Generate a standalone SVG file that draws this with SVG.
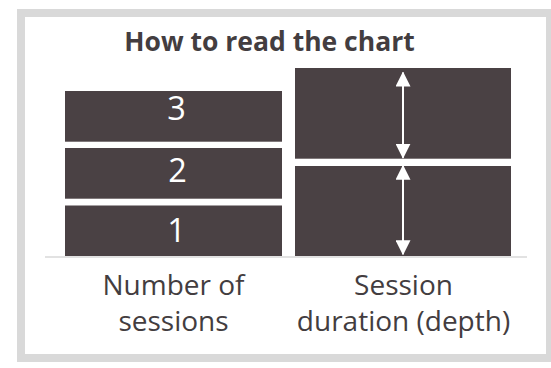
<svg xmlns="http://www.w3.org/2000/svg" width="551" height="368" viewBox="0 0 551 368">
  <defs>
    <marker id="head" viewBox="0 0 15 15" refX="14" refY="7.5" markerWidth="15" markerHeight="15" markerUnits="userSpaceOnUse" orient="auto-start-reverse">
      <path d="M0,0 L15,7.5 L0,15 Z" fill="#ffffff"/>
    </marker>
  </defs>
  <style>
    .bar { fill: #4a4144; }
    .num { font-family: "Open Sans", "Liberation Sans", sans-serif; font-size: 32.5px; fill: #ffffff; text-anchor: middle; }
    .title { font-family: "Open Sans", "Liberation Sans", sans-serif; font-size: 26.5px; font-weight: bold; fill: #433d40; text-anchor: middle; }
    .label { font-family: "Open Sans", "Liberation Sans", sans-serif; font-size: 28px; fill: #433d40; text-anchor: middle; }
    .dim { stroke: #ffffff; stroke-width: 2; fill: none; marker-start: url(#head); marker-end: url(#head); }
  </style>

  <rect width="551" height="368" fill="#ffffff"/>
  <!-- frame -->
  <rect x="21" y="13" width="529" height="345" fill="#ffffff" stroke="#d9d9d9" stroke-width="8"/>

  <text class="title" x="269.5" y="50.5">How to read the chart</text>

  <!-- baseline -->
  <line x1="45" y1="257" x2="527" y2="257" stroke="#d9d9d9" stroke-width="1.5"/>

  <!-- sessions stack -->
  <g id="session-3">
    <rect class="bar" x="65" y="91" width="217" height="50.7"/>
    <text class="num" x="176.5" y="120">3</text>
  </g>
  <g id="session-2">
    <rect class="bar" x="65" y="148" width="217" height="50.7"/>
    <text class="num" x="177.5" y="181.7">2</text>
  </g>
  <g id="session-1">
    <rect class="bar" x="65" y="205.5" width="217" height="50.5"/>
    <text class="num" x="176.5" y="242">1</text>
  </g>

  <!-- duration stack -->
  <g id="duration-2">
    <rect class="bar" x="295" y="68" width="216" height="90.7"/>
  </g>
  <g id="duration-1">
    <rect class="bar" x="295" y="166" width="216" height="90"/>
  </g>

  <g id="connectors">
    <line class="dim" x1="403" y1="72.5" x2="403" y2="157.7"/>
    <line class="dim" x1="403" y1="165.7" x2="403" y2="254.3"/>
  </g>

  <g id="labels">
    <text class="label" x="173.5" y="294.6">Number of</text>
    <text class="label" x="173.5" y="330.8">sessions</text>
    <text class="label" x="403.5" y="294.6">Session</text>
    <text class="label" x="403.5" y="330.8">duration (depth)</text>
  </g>
</svg>
